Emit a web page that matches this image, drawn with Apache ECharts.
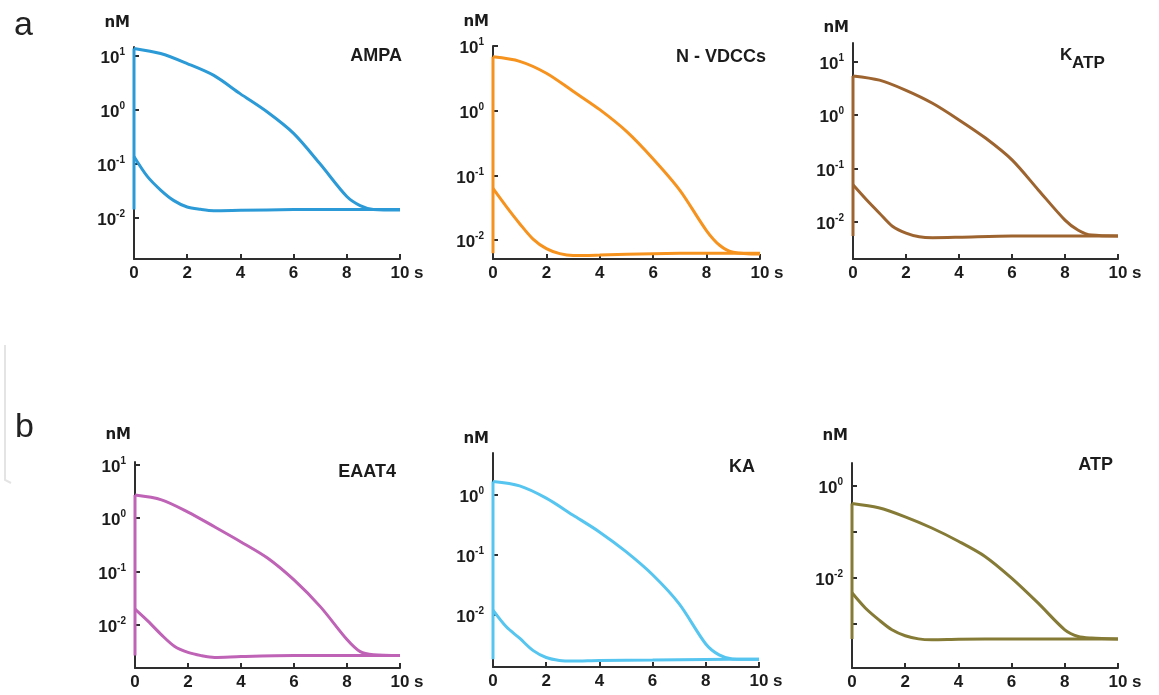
<!DOCTYPE html>
<html>
<head>
<meta charset="utf-8">
<script src="https://cdn.jsdelivr.net/npm/echarts@6/dist/echarts.min.js"></script>
<style>
html,body{margin:0;padding:0;background:#fff;}
#c{width:1159px;height:695px;}
</style>
</head>
<body>
<div id="c"></div>
<script>
// ---- data ----
const timeUpper = [0, 1, 2, 3, 4, 5, 6, 7, 8, 8.5, 9, 10];
const timeLower = [0, 0.5, 1, 1.5, 2, 2.5, 3, 4, 6, 8, 10];

const ampaUpper = [13.9, 11.2, 7.3, 4.4, 2.0, 0.93, 0.37, 0.10, 0.025, 0.017, 0.0144, 0.014];
const ampaLower = [0.138, 0.059, 0.033, 0.021, 0.016, 0.0145, 0.0137, 0.0139, 0.0143, 0.0144, 0.0144];

const vdccUpper = [6.8, 5.8, 3.8, 2.0, 1.04, 0.48, 0.18, 0.059, 0.014, 0.0083, 0.0065, 0.0061];
const vdccLower = [0.063, 0.033, 0.018, 0.0104, 0.0074, 0.0062, 0.0058, 0.0059, 0.0062, 0.0063, 0.0063];

const katpUpper = [5.4, 4.5, 2.9, 1.66, 0.81, 0.37, 0.144, 0.039, 0.0107, 0.0069, 0.0056, 0.0054];
const katpLower = [0.049, 0.026, 0.0144, 0.0081, 0.0061, 0.0052, 0.0050, 0.0051, 0.0054, 0.0054, 0.0054];

const eaatUpper = [2.7, 2.2, 1.3, 0.69, 0.36, 0.18, 0.07, 0.022, 0.0054, 0.0032, 0.0028, 0.0027];
const eaatLower = [0.020, 0.0118, 0.0066, 0.0040, 0.0031, 0.0027, 0.0025, 0.0026, 0.0027, 0.0027, 0.0027];

const kaUpper = [1.67, 1.41, 0.88, 0.46, 0.24, 0.112, 0.046, 0.015, 0.0032, 0.0021, 0.0018, 0.00178];
const kaLower = [0.0118, 0.0062, 0.0040, 0.0025, 0.0019, 0.0017, 0.00166, 0.0017, 0.00172, 0.00176, 0.00178];

const atpUpper = [0.41, 0.33, 0.21, 0.12, 0.062, 0.029, 0.0098, 0.0028, 0.00074, 0.00053, 0.00049, 0.00047];
const atpLower = [0.0047, 0.0022, 0.00123, 0.00074, 0.00055, 0.00047, 0.00045, 0.00046, 0.00047, 0.00047, 0.00047];

const xTicks = [0, 2, 4, 6, 8, 10];
const yTicksStd = [0.01, 0.1, 1, 10];
const yTicksKA = [0.01, 0.1, 1];
const yTicksATP = [0.001, 0.01, 0.1, 1];
const yLabelsATP = [0.01, 1];

const panelTitles = ['AMPA', 'N - VDCCs', '', 'EAAT4', 'KA', 'ATP'];

// ---- layout / style ----
const panels = [
  {up: ampaUpper, low: ampaLower, color: '#2b9ad6', grid: [134, 47, 266, 212], logMin: -2.76, logMax: 1.17, ticks: yTicksStd, labels: yTicksStd, nameGap: 24, title: [402, 56]},
  {up: vdccUpper, low: vdccLower, color: '#f6921e', grid: [493, 46, 267, 213], logMin: -2.29, logMax: 1.0, ticks: yTicksStd, labels: yTicksStd, nameGap: 24, title: [766, 57]},
  {up: katpUpper, low: katpLower, color: '#9e6430', grid: [853, 43, 265, 216], logMin: -2.70, logMax: 1.35, ticks: yTicksStd, labels: yTicksStd, nameGap: 15, title: [1113, 58]},
  {up: eaatUpper, low: eaatLower, color: '#bf63b7', grid: [135, 462, 265, 206], logMin: -2.80, logMax: 1.05, ticks: yTicksStd, labels: yTicksStd, nameGap: 27, title: [396, 472]},
  {up: kaUpper, low: kaLower, color: '#56c5ef', grid: [493, 453, 266, 214], logMin: -2.88, logMax: 0.70, ticks: yTicksKA, labels: yTicksKA, nameGap: 14, title: [755, 467]},
  {up: atpUpper, low: atpLower, color: '#857b36', grid: [852, 463, 266, 205], logMin: -3.96, logMax: 0.49, ticks: yTicksATP, labels: yLabelsATP, nameGap: 27, title: [1113, 465]}
];

const AX = '#2e2e2e';
const TXT = '#1c1c1c';
const FONT = 'Arial, "Liberation Sans", sans-serif';
const WIDE = '"DejaVu Sans", sans-serif';

const grids = [], xAxes = [], yAxes = [], series = [];
panels.forEach((p, i) => {
  grids.push({left: p.grid[0], top: p.grid[1], width: p.grid[2], height: p.grid[3], containLabel: false});
  xAxes.push({
    type: 'value', gridIndex: i, min: 0, max: 10, interval: 2,
    axisLine: {show: true, onZero: false, lineStyle: {color: AX, width: 2}},
    axisTick: {show: true, inside: true, length: 5, lineStyle: {color: AX, width: 2}, customValues: xTicks},
    axisLabel: {customValues: xTicks, margin: 6, color: TXT, fontSize: 17, fontWeight: 'bold', fontFamily: FONT},
    splitLine: {show: false},
    name: 's', nameLocation: 'end', nameGap: 14,
    nameTextStyle: {color: TXT, fontSize: 17, fontWeight: 'bold', fontFamily: FONT, verticalAlign: 'top', padding: [6, 0, 0, 0]}
  });
  yAxes.push({
    type: 'log', logBase: 10, gridIndex: i,
    min: Math.pow(10, p.logMin), max: Math.pow(10, p.logMax),
    axisLine: {show: true, onZero: false, lineStyle: {color: AX, width: 2}},
    axisTick: {show: true, inside: true, length: 5, lineStyle: {color: AX, width: 2}, customValues: p.ticks},
    axisLabel: {
      customValues: p.labels, margin: 9, color: TXT, fontFamily: FONT, padding: [5, 0, 0, 0],
      formatter: v => '{b|10}{s|' + Math.round(Math.log10(v)) + '}',
      rich: {
        b: {fontSize: 17, fontWeight: 'bold', color: TXT, fontFamily: FONT, lineHeight: 22},
        s: {fontSize: 10, fontWeight: 'bold', color: TXT, fontFamily: FONT, lineHeight: 10, verticalAlign: 'top'}
      }
    },
    splitLine: {show: false},
    name: 'nM', nameLocation: 'end', nameGap: p.nameGap,
    nameTextStyle: {color: TXT, fontSize: 15, fontWeight: 'bold', fontFamily: WIDE, align: 'right', verticalAlign: 'middle', padding: [0, 4, 0, 0]}
  });
  const base = p.low[p.low.length - 1];
  const common = {type: 'line', xAxisIndex: i, yAxisIndex: i, showSymbol: false, symbol: 'none',
    lineStyle: {color: p.color, width: 3}, itemStyle: {color: p.color}, animation: false, silent: true};
  series.push(Object.assign({}, common, {data: [[0, base], [0, p.up[0]]]}));
  series.push(Object.assign({}, common, {smooth: 0.3, data: timeUpper.map((t, k) => [t, p.up[k]])}));
  series.push(Object.assign({}, common, {smooth: 0.3, data: timeLower.map((t, k) => [t, p.low[k]])}));
});

const graphics = [
  {type: 'text', x: 14, y: 26, style: {text: 'a', font: '34px ' + FONT, fill: '#222', verticalAlign: 'middle'}},
  {type: 'text', x: 15, y: 428, style: {text: 'b', font: '34px ' + FONT, fill: '#222', verticalAlign: 'middle'}},
  {type: 'polyline', shape: {points: [[5, 345], [5, 480], [11, 483]]}, style: {stroke: '#e4e4e4', lineWidth: 2, fill: null}},
  {type: 'text', x: 1060, y: 55, style: {text: 'K', font: 'bold 17px ' + FONT, fill: TXT, align: 'left', verticalAlign: 'middle'}},
  {type: 'text', x: 1072, y: 63, style: {text: 'ATP', font: 'bold 17px ' + FONT, fill: TXT, align: 'left', verticalAlign: 'middle'}}
];
panels.forEach((p, i) => {
  if (panelTitles[i]) {
    graphics.push({type: 'text', x: p.title[0], y: p.title[1],
      style: {text: panelTitles[i], font: 'bold 18px ' + FONT, fill: TXT, align: 'right', verticalAlign: 'middle'}});
  }
});

const chart = echarts.init(document.getElementById('c'), null, {renderer: 'canvas'});
chart.setOption({
  backgroundColor: '#ffffff',
  animation: false,
  grid: grids, xAxis: xAxes, yAxis: yAxes, series: series,
  graphic: graphics
});
</script>
</body>
</html>
